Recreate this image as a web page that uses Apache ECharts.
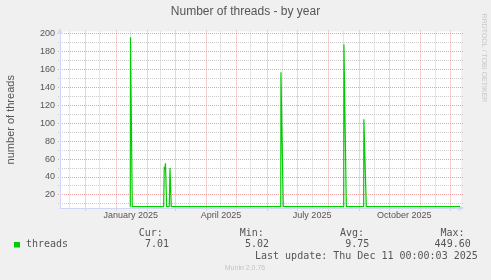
<!DOCTYPE html>
<html>
<head>
<meta charset="utf-8">
<script src="https://cdn.jsdelivr.net/npm/echarts@6/dist/echarts.min.js"></script>
<style>
html,body{margin:0;padding:0;background:#f0f0f0;}
#chart{width:491px;height:280px;}
</style>
</head>
<body>
<div id="chart"></div>
<script>
// ---------- data ----------
const chartTitle = 'Number of threads - by year';
const yAxisTitle = 'number of threads';
const seriesName = 'threads';
const rangeStart = '2024-11-06T00:00:03Z';
const rangeEnd = '2025-12-11T00:00:03Z';

const majorGridDates = ['2024-12-01T00:00:00Z','2025-01-01T00:00:00Z','2025-02-01T00:00:00Z','2025-03-01T00:00:00Z',
  '2025-04-01T00:00:00Z','2025-05-01T00:00:00Z','2025-06-01T00:00:00Z','2025-07-01T00:00:00Z','2025-08-01T00:00:00Z',
  '2025-09-01T00:00:00Z','2025-10-01T00:00:00Z','2025-11-01T00:00:00Z','2025-12-01T00:00:00Z'];
const minorGridDates = ['2024-11-15T12:00:00Z','2024-12-15T12:00:00Z','2025-01-15T12:00:00Z','2025-02-14T12:00:00Z',
  '2025-03-15T12:00:00Z','2025-04-15T12:00:00Z','2025-05-15T12:00:00Z','2025-06-15T12:00:00Z','2025-07-15T12:00:00Z',
  '2025-08-15T12:00:00Z','2025-09-15T12:00:00Z','2025-10-15T12:00:00Z','2025-11-15T12:00:00Z'];
const xLabelDates = ['2025-01-15T12:00:00Z','2025-04-15T12:00:00Z','2025-07-15T12:00:00Z','2025-10-15T12:00:00Z'];
const xLabelTexts = ['January 2025','April 2025','July 2025','October 2025'];

const yMin = 5.5;
const yMax = 202;
const yMajorTicks = [20,40,60,80,100,120,140,160,180,200];
const yTickLabels = ['20','40','60','80','100','120','140','160','180','200'];
const yMinorTicks = [10,30,50,70,90,110,130,150,170,190];

// days since range start, and thread counts
const pointDays = [70.1, 70.3, 72.1,
  103.4, 104.0, 104.6, 105.2, 106.4, 109.0, 109.7, 111.0,
  220.2, 220.4, 222.7,
  283.0, 283.2, 285.6,
  302.9, 303.1, 305.5,
  399.0];
const threadValues = [7, 195.5, 7,
  7, 51.5, 48, 55.3, 7, 7, 50, 7,
  7, 156.6, 7,
  7, 187.8, 7,
  7, 104.3, 7,
  7];

const legendHeaders = ['Cur:','Min:','Avg:','Max:'];
const legendValues = ['7.01','5.02','9.75','449.60'];
const lastUpdateText = 'Last update: Thu Dec 11 00:00:03 2025';
const footerText = 'Munin 2.0.76';
const watermarkText = 'RRDTOOL / TOBI OETIKER';

// ---------- build ----------
const t = s => Date.parse(s);
const startMs = t(rangeStart);
const endMs = t(rangeEnd);
const DAY = 86400000;
const seriesData = pointDays.map((d, i) => [startMs + d * DAY, threadValues[i]]);
const xLabelVals = xLabelDates.map(t);

const MONO = '"DejaVu Sans Mono", monospace';
const SANS = '"Liberation Sans", Arial, sans-serif';
const majorColor = '#f0a0a0';
const minorColor = '#cccccc';
const axisColor = '#CFD6F8';

const crisp = v => Math.round(v - 0.5) + 0.5;

function vLines(values, color, extTop, extBottom, z) {
  return {
    type:'custom', xAxisIndex:0, yAxisIndex:0, silent:true, z:z, clip:false,
    data: values.map(v => [v, yMin]),
    renderItem: (params, api) => {
      const cs = params.coordSys;
      const x = crisp(api.coord([api.value(0), api.value(1)])[0]);
      return {type:'line', shape:{x1:x, y1:cs.y - extTop, x2:x, y2:cs.y + cs.height + extBottom},
        style:{stroke:color, lineWidth:1, lineDash:[1,1]}};
    }
  };
}
function hLines(values, color, ext, z) {
  return {
    type:'custom', xAxisIndex:0, yAxisIndex:0, silent:true, z:z, clip:false,
    data: values.map(v => [startMs, v]),
    renderItem: (params, api) => {
      const cs = params.coordSys;
      const y = crisp(api.coord([api.value(0), api.value(1)])[1]);
      return {type:'line', shape:{x1:cs.x - ext, y1:y, x2:cs.x + cs.width + ext, y2:y},
        style:{stroke:color, lineWidth:1, lineDash:[1,1]}};
    }
  };
}

const hdrLeft = [138.7, 239.7, 340.0, 440.4];
const valLeft = [144.9, 244.9, 345.2, 434.6];

const graphics = [
  {type:'text', x:245.5, y:11.7, style:{text:chartTitle, fill:'#555', font:'12px ' + SANS, align:'center', verticalAlign:'middle'}},
  {type:'text', x:483.5, y:58, rotation:-Math.PI/2, style:{text:watermarkText, fill:'#c8c8c8', font:'7px ' + SANS, align:'center', verticalAlign:'middle'}},
  {type:'rect', shape:{x:14, y:242, width:6, height:5.5}, style:{fill:'#00cc00'}},
  {type:'text', x:26, y:244.3, style:{text:seriesName, fill:'#555', font:'10px ' + MONO, align:'left', verticalAlign:'middle'}},
  {type:'text', x:255, y:256, style:{text:lastUpdateText, fill:'#555', font:'10px ' + MONO, align:'left', verticalAlign:'middle'}},
  {type:'text', x:245, y:268.3, style:{text:footerText, fill:'#c4c4c4', font:'7px ' + SANS, align:'center', verticalAlign:'middle'}}
];
legendHeaders.forEach((h, i) => graphics.push({type:'text', x:hdrLeft[i], y:233.3,
  style:{text:h, fill:'#555', font:'10px ' + MONO, align:'left', verticalAlign:'middle'}}));
legendValues.forEach((v, i) => graphics.push({type:'text', x:valLeft[i], y:244.3,
  style:{text:v, fill:'#555', font:'10px ' + MONO, align:'left', verticalAlign:'middle'}}));

const chart = echarts.init(document.getElementById('chart'), null, {renderer:'canvas'});
chart.setOption({
  animation:false,
  backgroundColor:'#f0f0f0',
  grid:{left:60, right:30, top:31.5, bottom:72, show:true, backgroundColor:'#ffffff', borderWidth:0,
    containLabel:false, outerBoundsMode:'none'},
  xAxis:[{
    type:'value', min:startMs, max:endMs, position:'bottom', z:3,
    axisLine:{show:true, onZero:false, symbol:['none','arrow'], symbolSize:[5,6], symbolOffset:[0,3], lineStyle:{color:axisColor, width:1}},
    axisTick:{show:false},
    axisLabel:{show:true, customValues:xLabelVals, margin:3, fontSize:9, fontFamily:SANS, color:'#555',
      formatter:v => { const k = xLabelVals.indexOf(v); return k >= 0 ? xLabelTexts[k] : ''; }},
    splitLine:{show:false}
  }],
  yAxis:[{
    type:'value', min:yMin, max:yMax, z:3,
    axisLine:{show:true, onZero:false, symbol:['none','arrow'], symbolSize:[5,6], symbolOffset:[0,3], lineStyle:{color:axisColor, width:1}},
    axisTick:{show:false},
    axisLabel:{show:true, customValues:yMajorTicks, margin:5, fontSize:9, fontFamily:SANS, color:'#555',
      formatter:v => { const k = yMajorTicks.indexOf(v); return k >= 0 ? yTickLabels[k] : ''; }},
    splitLine:{show:false},
    name:yAxisTitle, nameLocation:'middle', nameGap:43.5,
    nameTextStyle:{fontSize:11, fontFamily:SANS, color:'#555'}
  }],
  series:[
    vLines(minorGridDates.map(t), minorColor, 0, 1, 1),
    hLines(yMinorTicks, minorColor, 2, 1),
    vLines(majorGridDates.map(t), majorColor, 1, 3, 1.5),
    hLines(yMajorTicks, majorColor, 2, 1.5),
    {
      name:seriesName, type:'line', xAxisIndex:0, yAxisIndex:0,
      data:seriesData, symbol:'none', showSymbol:false,
      lineStyle:{color:'#00cc00', width:1.2}, z:5
    }
  ],
  graphic:graphics
});
</script>
</body>
</html>
